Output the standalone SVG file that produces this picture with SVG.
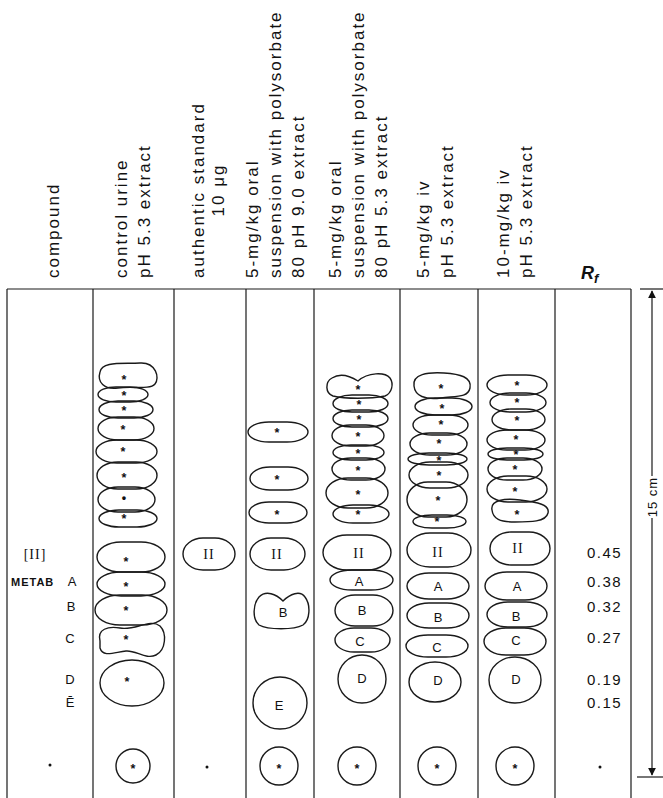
<svg xmlns="http://www.w3.org/2000/svg" width="663" height="798" viewBox="0 0 663 798">
<style>
.ln{stroke:#1a1a1a;stroke-width:1.2;fill:none}
.spot{fill:none;stroke:#1a1a1a;stroke-width:1.4}
.hdr{font-family:"Liberation Sans",Arial,sans-serif;font-size:17px;letter-spacing:2px;fill:#111}
.star{font-family:"Liberation Sans",Arial,sans-serif;font-size:12.5px;font-weight:bold;text-anchor:middle;fill:#111}
.lbl{font-family:"Liberation Sans",Arial,sans-serif;font-size:13px;text-anchor:middle;fill:#111}
.rom{font-family:"Liberation Serif","Times New Roman",serif;font-size:14px;text-anchor:middle;letter-spacing:1px;fill:#111}
.rf{font-family:"Liberation Sans",Arial,sans-serif;font-size:15px;letter-spacing:1.5px;fill:#111}
.dot{fill:#111}
</style>
<defs>
<marker id="arr" viewBox="0 0 10 10" refX="9" refY="5" markerWidth="8" markerHeight="8" markerUnits="userSpaceOnUse" orient="auto">
<path d="M0,0 L10,5 L0,10 Z" fill="#111"/>
</marker>
</defs>
<rect width="663" height="798" fill="#fff"/>

<g id="headers">
<text class="hdr" transform="translate(59,278) rotate(-90)">compound</text>
<text class="hdr" transform="translate(127,278) rotate(-90)">control urine</text>
<text class="hdr" transform="translate(150,278) rotate(-90)">pH 5.3 extract</text>
<text class="hdr" transform="translate(204,278) rotate(-90)">authentic standard</text>
<text class="hdr" transform="translate(224,190) rotate(-90)" text-anchor="middle">10 μg</text>
<text class="hdr" transform="translate(258,278) rotate(-90)">5-mg/kg oral</text>
<text class="hdr" transform="translate(281,278) rotate(-90)">suspension with polysorbate</text>
<text class="hdr" transform="translate(304,278) rotate(-90)">80 pH 9.0 extract</text>
<text class="hdr" transform="translate(341,278) rotate(-90)">5-mg/kg oral</text>
<text class="hdr" transform="translate(364,278) rotate(-90)">suspension with polysorbate</text>
<text class="hdr" transform="translate(387,278) rotate(-90)">80 pH 5.3 extract</text>
<text class="hdr" transform="translate(429,278) rotate(-90)">5-mg/kg iv</text>
<text class="hdr" transform="translate(453,278) rotate(-90)">pH 5.3 extract</text>
<text class="hdr" transform="translate(509,278) rotate(-90)">10-mg/kg iv</text>
<text class="hdr" transform="translate(532,278) rotate(-90)">pH 5.3 extract</text>
<text x="581" y="279" font-family="Liberation Sans, Arial, sans-serif" font-size="18" font-weight="bold" font-style="italic" fill="#111">R<tspan font-size="13" dy="4">f</tspan></text>
</g>

<g id="frame">
<line class="ln" x1="7" y1="289" x2="631" y2="289"/>
<line class="ln" x1="7" y1="289" x2="7" y2="798"/>
<line class="ln" x1="93" y1="289" x2="93" y2="798"/>
<line class="ln" x1="174" y1="289" x2="174" y2="798"/>
<line class="ln" x1="246" y1="289" x2="246" y2="798"/>
<line class="ln" x1="314" y1="289" x2="314" y2="798"/>
<line class="ln" x1="400" y1="289" x2="400" y2="798"/>
<line class="ln" x1="478" y1="289" x2="478" y2="798"/>
<line class="ln" x1="555" y1="289" x2="555" y2="798"/>
<line class="ln" x1="631" y1="289" x2="631" y2="798"/>
</g>

<g id="compound-labels">
<text class="rom" x="35" y="559" font-size="15" letter-spacing="2">[II]</text>
<text x="11" y="586" font-family="Liberation Sans, Arial, sans-serif" font-size="11" font-weight="bold" letter-spacing="1" fill="#111">METAB</text>
<text class="lbl" x="72" y="586">A</text>
<text class="lbl" x="71" y="611">B</text>
<text class="lbl" x="70" y="643">C</text>
<text class="lbl" x="70" y="684">D</text>
<text class="lbl" x="70" y="707">Ē</text>
<circle class="dot" cx="50" cy="765" r="1.5"/>
</g>

<g id="lane-control">
<path class="spot" d="M100,372 C102,361 122,364 140,363 C156,362 160,378 155,384 C150,390 132,386 118,388 C104,390 97,382 100,372 Z"/>
<rect class="spot" x="98" y="387" width="50" height="15" rx="18" ry="7.5"/>
<rect class="spot" x="99" y="401" width="54" height="17" rx="19" ry="8.5"/>
<rect class="spot" x="98" y="417" width="56" height="23" rx="20" ry="11.5"/>
<rect class="spot" x="96" y="440" width="61" height="23" rx="21" ry="11.5"/>
<rect class="spot" x="97" y="462" width="60" height="27" rx="21" ry="13.5"/>
<rect class="spot" x="98" y="487" width="57" height="25" rx="20" ry="12.5"/>
<rect class="spot" x="99" y="510" width="58" height="17" rx="20" ry="8.5"/>
<rect class="spot" x="97" y="542" width="68" height="30" rx="24" ry="15"/>
<rect class="spot" x="97" y="572" width="68" height="24" rx="24" ry="12"/>
<rect class="spot" x="95" y="595" width="72" height="30" rx="25" ry="15"/>
<path class="spot" d="M100,641 C97,629 108,626 120,628 C135,631 150,618 160,626 C167,633 166,650 156,655 C146,660 136,650 126,651 C115,652 103,658 100,648 Z"/>
<ellipse class="spot" cx="132" cy="683" rx="32" ry="23"/>
<circle class="spot" cx="133" cy="766" r="17"/>
<text class="star" x="124" y="384">*</text>
<text class="star" x="124" y="400">*</text>
<text class="star" x="124" y="415">*</text>
<text class="star" x="123" y="434">*</text>
<text class="star" x="123" y="456">*</text>
<text class="star" x="124" y="482">*</text>
<text class="star" x="124" y="502">•</text>
<text class="star" x="124" y="523">*</text>
<text class="star" x="126" y="566">*</text>
<text class="star" x="126" y="591">*</text>
<text class="star" x="126" y="615">*</text>
<text class="star" x="126" y="644">*</text>
<text class="star" x="127" y="686">*</text>
<text class="star" x="133" y="773">*</text>
</g>

<g id="lane-standard">
<rect class="spot" x="183" y="538" width="52" height="32" rx="20" ry="16"/>
<text class="rom" x="209" y="559">II</text>
<circle class="dot" cx="207" cy="767" r="1.5"/>
</g>

<g id="lane-oral-ph9">
<rect class="spot" x="248" y="422" width="60" height="20" rx="21" ry="10"/>
<rect class="spot" x="250" y="467" width="58" height="23" rx="20" ry="11.5"/>
<rect class="spot" x="249" y="502" width="58" height="21" rx="20" ry="10.5"/>
<rect class="spot" x="250" y="538" width="55" height="32" rx="21" ry="16"/>
<path class="spot" d="M283,601 C290,594 300,590 305,597 C311,605 310,620 303,625 C294,630 268,630 259,625 C252,619 253,604 259,597 C266,590 276,594 283,601 Z"/>
<ellipse class="spot" cx="280" cy="703" rx="27" ry="26"/>
<circle class="spot" cx="279" cy="766" r="19"/>
<text class="star" x="277" y="437">*</text>
<text class="star" x="277" y="484">*</text>
<text class="star" x="277" y="519">*</text>
<text class="rom" x="277" y="559">II</text>
<text class="lbl" x="283" y="617">B</text>
<text class="lbl" x="279" y="710">E</text>
<text class="star" x="279" y="773">*</text>
</g>

<g id="lane-oral-ph53">
<path class="spot" d="M358,381 C368,372 385,372 390,378 C394,384 392,393 385,396 C370,399 345,399 333,396 C325,393 325,382 332,378 C340,373 350,376 358,381 Z"/>
<rect class="spot" x="333" y="395" width="55" height="17" rx="19" ry="8.5"/>
<rect class="spot" x="333" y="410" width="55" height="17" rx="19" ry="8.5"/>
<rect class="spot" x="332" y="425" width="52" height="21" rx="18" ry="10.5"/>
<rect class="spot" x="333" y="445" width="51" height="15" rx="18" ry="7.5"/>
<rect class="spot" x="332" y="458" width="53" height="22" rx="19" ry="11"/>
<rect class="spot" x="326" y="478" width="62" height="30" rx="22" ry="15"/>
<rect class="spot" x="333" y="505" width="56" height="18" rx="20" ry="9"/>
<rect class="spot" x="323" y="535" width="68" height="35" rx="24" ry="17.5"/>
<rect class="spot" x="330" y="570" width="63" height="20" rx="22" ry="10"/>
<rect class="spot" x="335" y="595" width="58" height="31" rx="20" ry="15.5"/>
<rect class="spot" x="335" y="628" width="55" height="24" rx="19" ry="12"/>
<ellipse class="spot" cx="362" cy="679" rx="24" ry="24"/>
<circle class="spot" cx="357" cy="766" r="19"/>
<text class="star" x="358" y="394">*</text>
<text class="star" x="359" y="409">*</text>
<text class="star" x="359" y="424">*</text>
<text class="star" x="358" y="441">*</text>
<text class="star" x="358" y="458">*</text>
<text class="star" x="358" y="475">*</text>
<text class="star" x="358" y="499">*</text>
<text class="star" x="358" y="519">*</text>
<text class="rom" x="359" y="558">II</text>
<text class="lbl" x="359" y="586">A</text>
<text class="lbl" x="362" y="615">B</text>
<text class="lbl" x="360" y="646">C</text>
<text class="lbl" x="362" y="683">D</text>
<text class="star" x="357" y="773">*</text>
</g>

<g id="lane-iv5">
<path class="spot" d="M414,386 C412,374 428,372 444,373 C460,374 472,377 470,388 C468,398 455,396 441,398 C425,400 415,396 414,386 Z"/>
<rect class="spot" x="415" y="398" width="57" height="17" rx="20" ry="8.5"/>
<rect class="spot" x="413" y="415" width="55" height="20" rx="19" ry="10"/>
<rect class="spot" x="410" y="433" width="57" height="22" rx="20" ry="11"/>
<rect class="spot" x="408" y="453" width="59" height="12" rx="21" ry="6"/>
<rect class="spot" x="409" y="462" width="59" height="26" rx="21" ry="13"/>
<rect class="spot" x="407" y="482" width="60" height="35" rx="21" ry="17.5"/>
<rect class="spot" x="413" y="515" width="53" height="13" rx="19" ry="6.5"/>
<rect class="spot" x="407" y="533" width="64" height="34" rx="23" ry="17"/>
<rect class="spot" x="407" y="573" width="62" height="26" rx="22" ry="13"/>
<rect class="spot" x="407" y="603" width="62" height="25" rx="22" ry="12.5"/>
<rect class="spot" x="406" y="635" width="62" height="22" rx="22" ry="11"/>
<ellipse class="spot" cx="435" cy="682" rx="26" ry="20"/>
<circle class="spot" cx="437" cy="766" r="19"/>
<text class="star" x="441" y="393">*</text>
<text class="star" x="442" y="413">*</text>
<text class="star" x="441" y="429">*</text>
<text class="star" x="439" y="448">*</text>
<text class="star" x="439" y="465">*</text>
<text class="star" x="439" y="480">*</text>
<text class="star" x="438" y="505">*</text>
<text class="star" x="437" y="526">*</text>
<text class="rom" x="438" y="557">II</text>
<text class="lbl" x="438" y="591">A</text>
<text class="lbl" x="438" y="622">B</text>
<text class="lbl" x="437" y="652">C</text>
<text class="lbl" x="438" y="685">D</text>
<text class="star" x="437" y="773">*</text>
</g>

<g id="lane-iv10">
<rect class="spot" x="487" y="375" width="60" height="20" rx="21" ry="10"/>
<rect class="spot" x="490" y="393" width="56" height="19" rx="20" ry="9.5"/>
<rect class="spot" x="492" y="409" width="53" height="21" rx="19" ry="10.5"/>
<rect class="spot" x="487" y="430" width="58" height="20" rx="20" ry="10"/>
<rect class="spot" x="488" y="448" width="55" height="12" rx="19" ry="6"/>
<rect class="spot" x="488" y="458" width="54" height="22" rx="19" ry="11"/>
<rect class="spot" x="487" y="476" width="60" height="26" rx="21" ry="13"/>
<path class="spot" d="M492,510 C490,500 505,498 520,500 C538,502 550,505 548,513 C546,522 530,522 515,522 C500,522 493,519 492,510 Z"/>
<rect class="spot" x="490" y="532" width="60" height="33" rx="21" ry="16.5"/>
<rect class="spot" x="485" y="572" width="62" height="28" rx="22" ry="14"/>
<rect class="spot" x="487" y="602" width="60" height="25" rx="21" ry="12.5"/>
<rect class="spot" x="484" y="628" width="62" height="27" rx="22" ry="13.5"/>
<ellipse class="spot" cx="515" cy="680" rx="26" ry="23"/>
<circle class="spot" cx="515" cy="766" r="19"/>
<text class="star" x="517" y="390">*</text>
<text class="star" x="517" y="407">*</text>
<text class="star" x="517" y="425">*</text>
<text class="star" x="516" y="444">*</text>
<text class="star" x="516" y="459">*</text>
<text class="star" x="515" y="474">*</text>
<text class="star" x="515" y="496">*</text>
<text class="star" x="517" y="519">*</text>
<text class="rom" x="518" y="553">II</text>
<text class="lbl" x="517" y="591">A</text>
<text class="lbl" x="516" y="621">B</text>
<text class="lbl" x="516" y="645">C</text>
<text class="lbl" x="516" y="684">D</text>
<text class="star" x="515" y="773">*</text>
</g>

<g id="rf-values">
<text class="rf" x="587" y="558">0.45</text>
<text class="rf" x="587" y="587">0.38</text>
<text class="rf" x="587" y="612">0.32</text>
<text class="rf" x="587" y="643">0.27</text>
<text class="rf" x="587" y="685">0.19</text>
<text class="rf" x="587" y="708">0.15</text>
<circle class="dot" cx="600" cy="767" r="1.5"/>
</g>

<g id="scale">
<line class="ln" x1="640" y1="289" x2="663" y2="289"/>
<line class="ln" x1="637" y1="777" x2="663" y2="777"/>
<line class="ln" x1="652" y1="476" x2="652" y2="291" marker-end="url(#arr)"/>
<line class="ln" x1="652" y1="518" x2="652" y2="775" marker-end="url(#arr)"/>
<text transform="translate(657,497) rotate(-90)" text-anchor="middle" font-family="Liberation Sans, Arial, sans-serif" font-size="13" letter-spacing="1" fill="#111">15 cm</text>
</g>
</svg>
